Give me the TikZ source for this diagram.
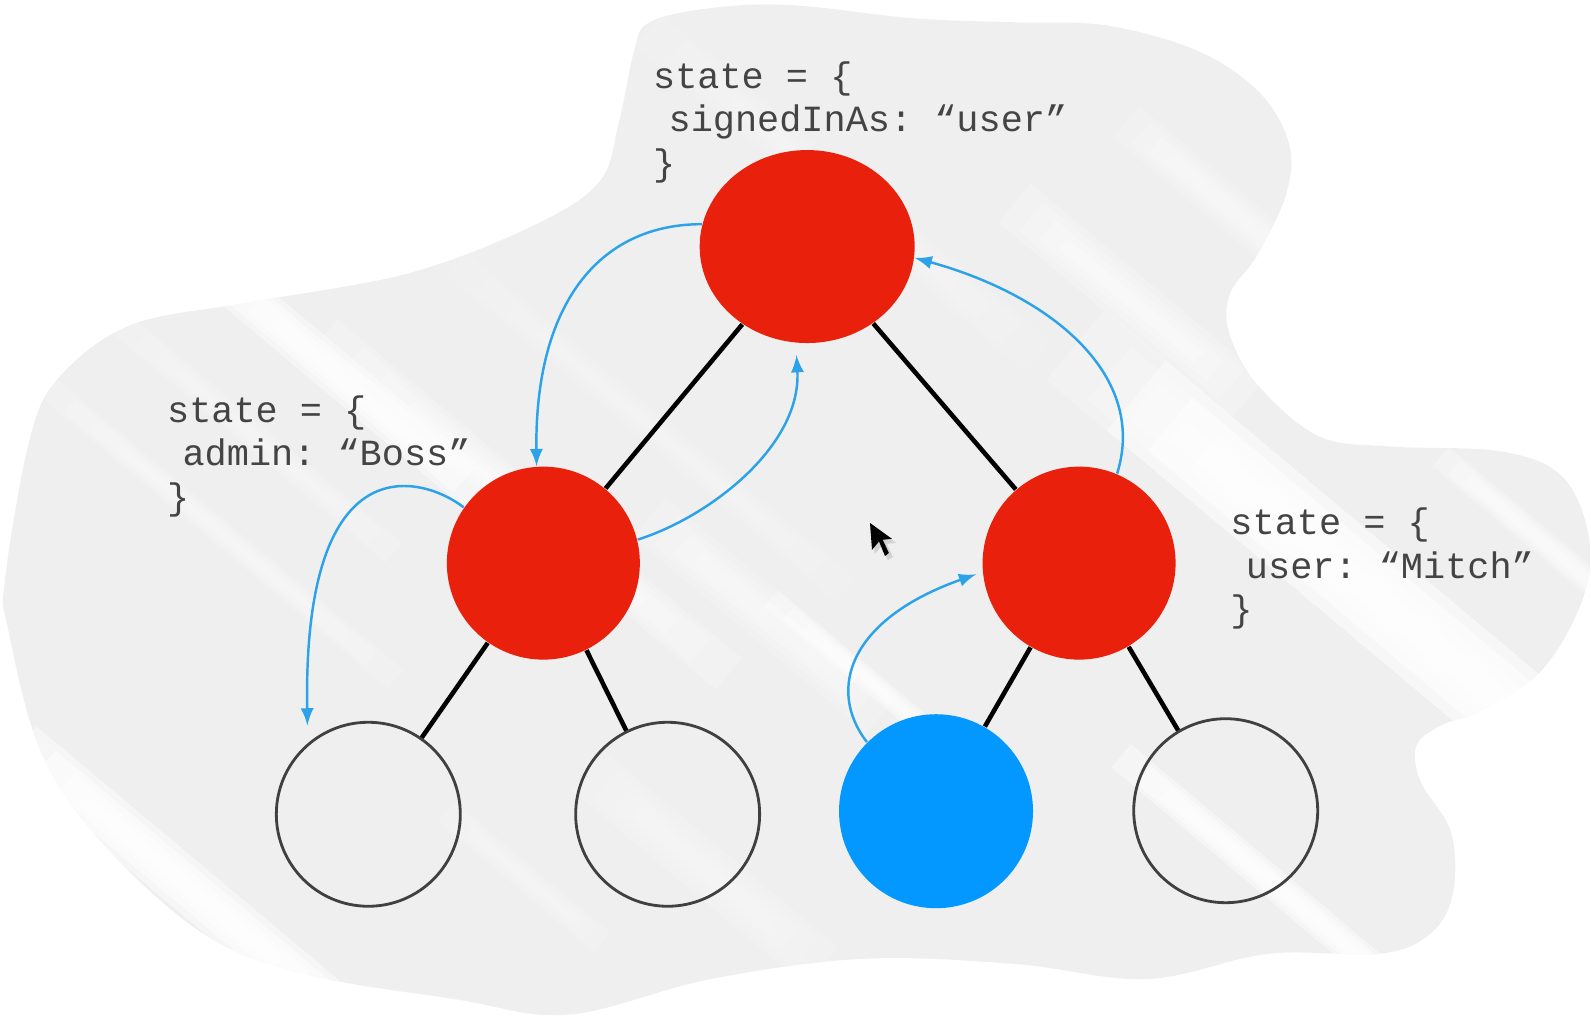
\documentclass[tikz,border=0pt]{standalone}
\usepackage{fontspec}
\usetikzlibrary{shapes.geometric}
\setmonofont{Liberation Mono}
\definecolor{blobgray}{HTML}{EFEFEF}
\definecolor{ballred}{HTML}{E9200B}
\definecolor{ballblue}{HTML}{0398FF}
\definecolor{flowblue}{HTML}{2CA3E8}
\definecolor{statetext}{HTML}{444444}
\tikzset{
    redball/.style={ellipse,fill=ballred,inner sep=0pt,minimum width=1.93cm,minimum height=1.93cm},
    leafball/.style={ellipse,draw=black!75,line width=0.8pt,inner sep=0pt,minimum width=1.84cm,minimum height=1.84cm},
    blueball/.style={ellipse,fill=ballblue,inner sep=0pt,minimum width=1.94cm,minimum height=1.94cm},
    treeedge/.style={line width=1.3pt,black},
    flow/.style={->,>=latex,flowblue,line width=0.7pt},
    statebox/.style={anchor=north west,inner sep=0pt,align=left,text=statetext,font=\fontsize{10.5}{12.4}\selectfont\ttfamily}
}
\begin{document}
\begin{tikzpicture}[x=0.010147cm,y=-0.010147cm]
    \useasboundingbox (0,0) rectangle (1568,1007.2);
    \begin{scope}
        \clip plot[smooth cycle,tension=0.6] coordinates {(640,22) (700,8) (780,5) (900,18) (1000,22) (1090,25) (1180,50) (1240,90) (1270,140) (1268,190) (1240,250) (1212,290) (1212,330) (1240,380) (1300,430) (1370,440) (1480,445) (1540,470) (1566,530) (1560,590) (1520,660) (1460,700) (1420,715) (1396,735) (1400,770) (1430,820) (1432,880) (1410,920) (1360,940) (1250,940) (1130,965) (1000,950) (850,945) (700,965) (560,1000) (450,985) (300,960) (200,920) (100,830) (40,740) (8,620) (5,570) (30,430) (60,370) (130,320) (245,298) (400,270) (520,225) (590,180) (610,120) (625,50)};
        \fill[blobgray] (0,0) rectangle (1568,1007.2);
        \foreach \sx/\sy/\slen/\swid/\sop in {
            1060/340/620/90/0.5, 1120/390/620/90/0.95, 1000/200/300/50/0.5, 1110/120/260/40/0.4,
            1420/450/240/25/0.6, 1105/745/400/30/0.95, 215/270/340/42/0.95,
            320/330/520/40/0.5, 20/735/420/50/1, 45/380/450/24/0.35,
            120/320/350/25/0.3, 640/510/300/50/0.4, 760/590/320/22/0.7,
            450/260/500/30/0.25, 640/30/500/40/0.25, 440/800/200/25/0.3,
            580/760/300/50/0.3}
        {
            \foreach \k in {0,1,2,3}
            {
                \pgfmathsetmacro{\sgap}{\k*\slen*0.07}
                \pgfmathsetmacro{\srun}{\slen-2*\sgap}
                \pgfmathsetmacro{\sline}{\swid*(1-\k*0.24)*0.2876}
                \pgfmathsetmacro{\slayer}{\sop/2.2}
                \draw[white,opacity=\slayer,line width=\sline pt] (\sx,\sy) ++(40:\sgap) -- ++(40:\srun);
            }
        }
    \end{scope}
    \node[redball,minimum width=2.15cm] (topball) at (795.5,243) {};
    \node[redball] (leftball) at (535.5,555) {};
    \node[redball] (rightball) at (1063.5,555) {};
    \node[leafball] (leafa) at (363,802.5) {};
    \node[leafball] (leafb) at (658,802.5) {};
    \node[blueball] (leafc) at (922.5,799.5) {};
    \node[leafball] (leafd) at (1208,799) {};
    \draw[treeedge] (topball) -- (leftball);
    \draw[treeedge] (topball) -- (rightball);
    \draw[treeedge] (leftball) -- (leafa);
    \draw[treeedge] (leftball) -- (leafb);
    \draw[treeedge] (rightball) -- (leafc);
    \draw[treeedge] (rightball) -- (leafd);
    \coordinate (belowtop) at (785,350);
    \coordinate (abovea) at (303,715);
    \coordinate (besideright) at (962,566);
    \draw[flow] (topball.168) .. controls +(-102,0) and +(-2,-159) .. (leftball.94);
    \draw[flow] (leftball.14) .. controls +(70,-22) and +(5,90) .. (belowtop);
    \draw[flow] (leftball.145) .. controls +(-37,-29) and +(-5,-285) .. (abovea);
    \draw[flow] (rightball.67) .. controls +(30,-95) and +(138,38) .. (topball.-6);
    \draw[flow] (leafc.135) .. controls +(-40,-52) and +(-125,44) .. (besideright);
    \node[statebox] (topstate) at (643,60) {state = \{\\\hspace{0.42em}signedInAs: “user”\\\}};
    \node[statebox] (leftstate) at (164,389) {state = \{\\\hspace{0.42em}admin: “Boss”\\\}};
    \node[statebox] (rightstate) at (1212,500) {state = \{\\\hspace{0.42em}user: “Mitch”\\\}};
    \fill[black!18] (860,518) -- (862,546) -- (869,538) -- (875,552) -- (880,549) -- (874,536) -- (883,535) -- cycle;
    \fill[black] (857.4,515.4) -- (859.4,542) -- (866.3,533.6) -- (872.2,548) -- (876,545) -- (870,532) -- (879,531) -- cycle;
\end{tikzpicture}
\end{document}
